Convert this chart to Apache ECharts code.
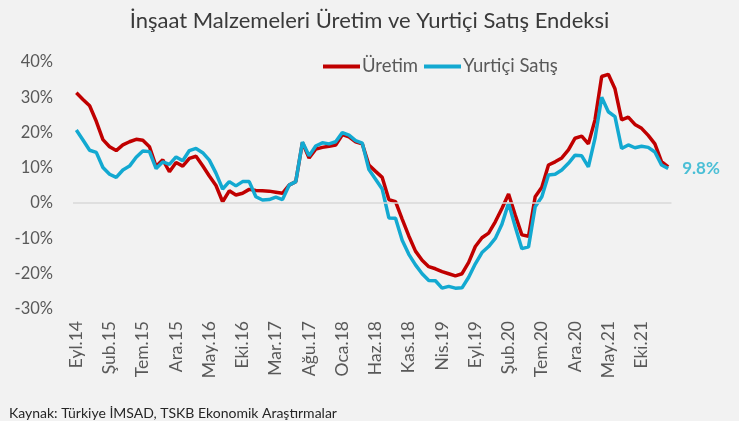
<!DOCTYPE html>
<html>
<head>
<meta charset="utf-8">
<script src="https://cdn.jsdelivr.net/npm/echarts@6/dist/echarts.min.js"></script>
<style>
    html, body {margin: 0; padding: 0; background: #f2f2f2;}
    #chart {width: 739px; height: 421px;}
</style>
</head>
<body>
<div id="chart"></div>
<script>
// Eyl.14 - Şub.22, aylık
const months = [
    'Eyl.14','Eki.14','Kas.14','Ara.14',
    'Oca.15','Şub.15','Mar.15','Nis.15','May.15','Haz.15','Tem.15','Ağu.15','Eyl.15','Eki.15','Kas.15','Ara.15',
    'Oca.16','Şub.16','Mar.16','Nis.16','May.16','Haz.16','Tem.16','Ağu.16','Eyl.16','Eki.16','Kas.16','Ara.16',
    'Oca.17','Şub.17','Mar.17','Nis.17','May.17','Haz.17','Tem.17','Ağu.17','Eyl.17','Eki.17','Kas.17','Ara.17',
    'Oca.18','Şub.18','Mar.18','Nis.18','May.18','Haz.18','Tem.18','Ağu.18','Eyl.18','Eki.18','Kas.18','Ara.18',
    'Oca.19','Şub.19','Mar.19','Nis.19','May.19','Haz.19','Tem.19','Ağu.19','Eyl.19','Eki.19','Kas.19','Ara.19',
    'Oca.20','Şub.20','Mar.20','Nis.20','May.20','Haz.20','Tem.20','Ağu.20','Eyl.20','Eki.20','Kas.20','Ara.20',
    'Oca.21','Şub.21','Mar.21','Nis.21','May.21','Haz.21','Tem.21','Ağu.21','Eyl.21','Eki.21','Kas.21','Ara.21',
    'Oca.22','Şub.22'
]

const uretim = [
    31.3, 29.4, 27.6, 23.2,
    18.0, 16.0, 14.9, 16.5, 17.4, 18.1, 17.8, 16.0, 10.4, 12.3, 8.9, 11.5,
    10.5, 12.7, 13.3, 10.6, 7.7, 5.0, 0.4, 3.5, 2.3, 2.8, 3.9, 3.6,
    3.5, 3.4, 3.1, 2.8, 5.1, 6.1, 17.2, 12.8, 15.3, 15.8, 16.1, 16.5,
    19.4, 18.8, 17.4, 16.8, 10.8, 9.0, 7.3, 1.0, 0.4, -4.5, -9.3, -13.6,
    -16.2, -18.0, -18.6, -19.4, -20.0, -20.6, -20.0, -16.8, -12.3, -9.8, -8.5, -5.3,
    -1.5, 2.6, -3.4, -9.0, -9.4, 1.8, 4.5, 10.8, 11.7, 12.8, 15.1, 18.4,
    19.0, 16.8, 23.6, 35.9, 36.5, 32.4, 23.6, 24.4, 22.3, 21.2, 19.2, 16.8,
    11.8, 10.3
]

const yurticiSatis = [
    20.7, 17.9, 15.0, 14.4,
    10.1, 8.2, 7.3, 9.4, 10.5, 13.0, 14.8, 14.6, 9.8, 11.7, 11.0, 13.1,
    12.0, 14.9, 15.5, 14.3, 12.2, 8.5, 4.0, 6.1, 4.9, 6.1, 6.1, 1.8,
    0.9, 1.0, 1.7, 1.0, 5.1, 6.1, 17.3, 13.4, 16.2, 17.1, 16.8, 17.4,
    20.0, 19.3, 17.7, 17.0, 9.5, 6.8, 4.0, -4.2, -4.3, -10.5, -14.5, -17.5,
    -20.0, -21.9, -22.0, -24.1, -23.6, -24.1, -24.0, -21.0, -17.2, -14.0, -12.3, -10.0,
    -6.0, 0.0, -6.7, -12.9, -12.4, -1.0, 1.8, 8.0, 8.2, 9.4, 11.3, 13.6,
    13.4, 10.3, 18.4, 30.0, 25.9, 24.5, 15.5, 16.5, 15.7, 16.1, 15.8, 14.5,
    10.8, 9.8
]

const chartDom = document.getElementById('chart')
const chartInstance = echarts.init(chartDom)

chartInstance.setOption({
    backgroundColor: '#f2f2f2',
    animation: false,
    textStyle: {fontFamily: 'Lato'},
    title: [{
        text: 'İnşaat Malzemeleri Üretim ve Yurtiçi Satış Endeksi',
        left: 'center',
        top: 5,
        textStyle: {
            color: '#3a3a3a',
            fontSize: 22,
            fontWeight: 'normal',
            fontFamily: 'Lato'
        }
    }, {
        text: 'Kaynak: Türkiye İMSAD, TSKB Ekonomik Araştırmalar',
        left: 4,
        top: 401,
        textStyle: {
            color: '#262626',
            fontSize: 14,
            fontWeight: 'normal',
            fontFamily: 'Lato'
        }
    }],
    legend: {
        left: 318,
        top: 52,
        icon: 'rect',
        itemWidth: 37,
        itemHeight: 4,
        itemGap: 6,
        textStyle: {
            color: '#595959',
            fontSize: 18.5,
            padding: [0, 0, 0, -3]
        },
        data: ['Üretim', 'Yurtiçi Satış']
    },
    grid: {
        left: 73,
        right: 67.5,
        top: 62,
        bottom: 112
    },
    xAxis: {
        type: 'category',
        data: months,
        boundaryGap: true,
        axisLine: {show: false, onZero: false},
        axisTick: {show: false},
        axisLabel: {
            interval: 4,
            rotate: 90,
            margin: 12,
            color: '#595959',
            fontSize: 17.5
        }
    },
    yAxis: {
        type: 'value',
        min: -30,
        max: 40,
        interval: 10,
        axisLine: {show: false},
        axisTick: {show: false},
        splitLine: {show: false},
        axisLabel: {
            formatter: '{value}%',
            color: '#595959',
            fontSize: 16.5,
            margin: 20
        }
    },
    series: [{
        name: 'Üretim',
        type: 'line',
        data: uretim,
        symbol: 'none',
        lineStyle: {color: '#c00000', width: 3.5},
        itemStyle: {color: '#c00000'},
        markLine: {
            silent: true,
            symbol: 'none',
            label: {show: false},
            lineStyle: {color: '#d9d9d9', width: 1.5, type: 'solid'},
            data: [{yAxis: 0}]
        }
    }, {
        name: 'Yurtiçi Satış',
        type: 'line',
        data: yurticiSatis,
        symbol: 'none',
        lineStyle: {color: '#13a9d1', width: 3.5},
        itemStyle: {color: '#13a9d1'},
        // son değer etiketi
        endLabel: {
            show: true,
            distance: 14,
            formatter: (p) => p.value.toFixed(1) + '%',
            color: '#4bbfd6',
            fontWeight: 'bold',
            fontSize: 17,
            fontFamily: 'Lato'
        }
    }]
})
</script>
</body>
</html>
